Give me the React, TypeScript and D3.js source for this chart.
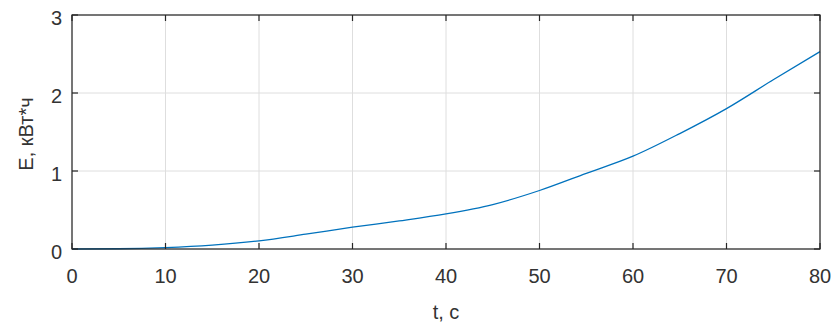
import React from "react";
import * as d3 from "d3";

// Energy consumption over time
const timeS: number[] = [0, 5, 10, 15, 20, 25, 30, 35, 40, 45, 50, 55, 60, 65, 70, 75, 80];
const energyKWh: number[] = [0, 0.003, 0.018, 0.05, 0.105, 0.19, 0.28, 0.36, 0.45, 0.57, 0.75, 0.97, 1.19, 1.48, 1.8, 2.17, 2.53];

const xTicks: number[] = [0, 10, 20, 30, 40, 50, 60, 70, 80];
const yTicks: number[] = [0, 1, 2, 3];

const xLabel = "t, c";
const yLabel = "E, кВт*ч";

const W = 838;
const H = 329;
const margin = { left: 72, top: 15, right: 18, bottom: 80 };

export default function App() {
  const x = d3.scaleLinear().domain([0, 80]).range([margin.left, W - margin.right]);
  const y = d3.scaleLinear().domain([0, 3]).range([H - margin.bottom, margin.top]);
  const points = timeS.map((t, i) => [t, energyKWh[i]] as [number, number]);
  const line = d3
    .line<[number, number]>()
    .x((d) => x(d[0]))
    .y((d) => y(d[1]))
    .curve(d3.curveMonotoneX);

  const x0 = x.range()[0];
  const x1 = x.range()[1];
  const y0 = y.range()[0];
  const y1 = y.range()[1];
  const tickLen = 6;
  const font = "Liberation Sans, Arial, sans-serif";
  const textColor = "#333333";
  const fs = 20;

  return (
    <svg
      width={W}
      height={H}
      style={{ position: "absolute", left: 0, top: 0, background: "#fff" }}
    >
      {/* grid */}
      <g stroke="#dedede" strokeWidth={1}>
        {xTicks.map((t) => (
          <line key={"gx" + t} x1={x(t)} x2={x(t)} y1={y0} y2={y1} />
        ))}
        {yTicks.map((t) => (
          <line key={"gy" + t} x1={x0} x2={x1} y1={y(t)} y2={y(t)} />
        ))}
      </g>

      {/* data line */}
      <path d={line(points) ?? ""} fill="none" stroke="#0072BD" strokeWidth={1.3} />

      {/* axes box and inward ticks */}
      <g stroke="#262626" strokeWidth={1.2} fill="none">
        <rect x={x0} y={y1} width={x1 - x0} height={y0 - y1} />
        {xTicks.map((t) => (
          <g key={"tx" + t}>
            <line x1={x(t)} x2={x(t)} y1={y0} y2={y0 - tickLen} />
            <line x1={x(t)} x2={x(t)} y1={y1} y2={y1 + tickLen} />
          </g>
        ))}
        {yTicks.map((t) => (
          <g key={"ty" + t}>
            <line x1={x0} x2={x0 + tickLen} y1={y(t)} y2={y(t)} />
            <line x1={x1} x2={x1 - tickLen} y1={y(t)} y2={y(t)} />
          </g>
        ))}
      </g>

      {/* tick labels */}
      <g fontFamily={font} fontSize={fs} fill={textColor}>
        {xTicks.map((t) => (
          <text key={"lx" + t} x={x(t)} y={y0 + 33.5} textAnchor="middle">
            {t}
          </text>
        ))}
        {yTicks.map((t) => (
          <text key={"ly" + t} x={x0 - 10} y={y(t) + 9.5} textAnchor="end">
            {t}
          </text>
        ))}
      </g>

      {/* axis titles */}
      <text
        x={(x0 + x1) / 2}
        y={y0 + 70}
        textAnchor="middle"
        fontFamily={font}
        fontSize={fs}
        fill={textColor}
      >
        {xLabel}
      </text>
      <text
        transform={`translate(${33}, ${(y0 + y1) / 2 + 2}) rotate(-90)`}
        textAnchor="middle"
        fontFamily={font}
        fontSize={fs}
        fill={textColor}
      >
        {yLabel}
      </text>
    </svg>
  );
}
